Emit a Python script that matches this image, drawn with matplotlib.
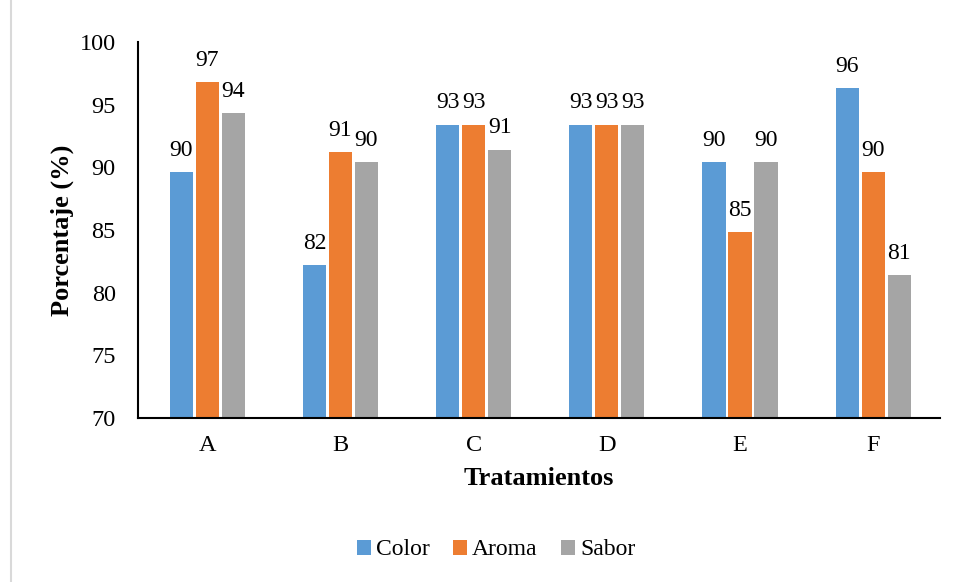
import matplotlib.pyplot as plt
import numpy as np
from matplotlib.patches import Rectangle

plt.rcParams['font.family'] = ['Liberation Serif', 'DejaVu Serif']

tratamientos = ['A', 'B', 'C', 'D', 'E', 'F']
color = [89.6, 82.2, 93.4, 93.4, 90.4, 96.3]
aroma = [96.8, 91.2, 93.4, 93.4, 84.8, 89.6]
sabor = [94.3, 90.4, 91.4, 93.4, 90.4, 81.4]

series = [('Color', color, '#5B9BD5'), ('Aroma', aroma, '#ED7D31'), ('Sabor', sabor, '#A5A5A5')]

fig = plt.figure(figsize=(9.58, 5.82), dpi=100)
ax = fig.add_axes([0.144, 0.282, 0.837, 0.646])

x = np.arange(len(tratamientos))
width = 0.175
step = 0.195
for i, (name, vals, c) in enumerate(series):
    bars = ax.bar(x + (i - 1) * step, vals, width, color=c, label=name, zorder=2)
    for b, v in zip(bars, vals):
        ax.text(b.get_x() + b.get_width() / 2, v + 0.9, f'{v:.0f}', ha='center', va='bottom', fontsize=17)

ax.set_ylim(70, 100)
ax.set_xlim(-0.52, 5.5)
ax.set_yticks(range(70, 101, 5))
ax.set_xticks(x)
ax.set_xticklabels(tratamientos)
ax.tick_params(axis='both', length=0, labelsize=17.5)
ax.tick_params(axis='x', pad=12)
ax.tick_params(axis='y', pad=16)
for s in ['top', 'right']:
    ax.spines[s].set_visible(False)
for s in ['left', 'bottom']:
    ax.spines[s].set_linewidth(1.5)
ax.set_xlabel('Tratamientos', fontsize=19, fontweight='bold', labelpad=8)
ax.set_ylabel('Porcentaje (%)', fontsize=19, fontweight='bold', labelpad=4)

fig.legend(loc='center', bbox_to_anchor=(0.518, 0.055), ncol=3, frameon=False, fontsize=17,
           handlelength=0.6, handleheight=0.6, handletextpad=0.2, columnspacing=1.0)

fig.patches.append(Rectangle((0.011, -0.01), 1.0, 1.02, transform=fig.transFigure,
                             fill=False, edgecolor='#D9D9D9', linewidth=1.5))

fig.savefig('out.png', dpi=100)
